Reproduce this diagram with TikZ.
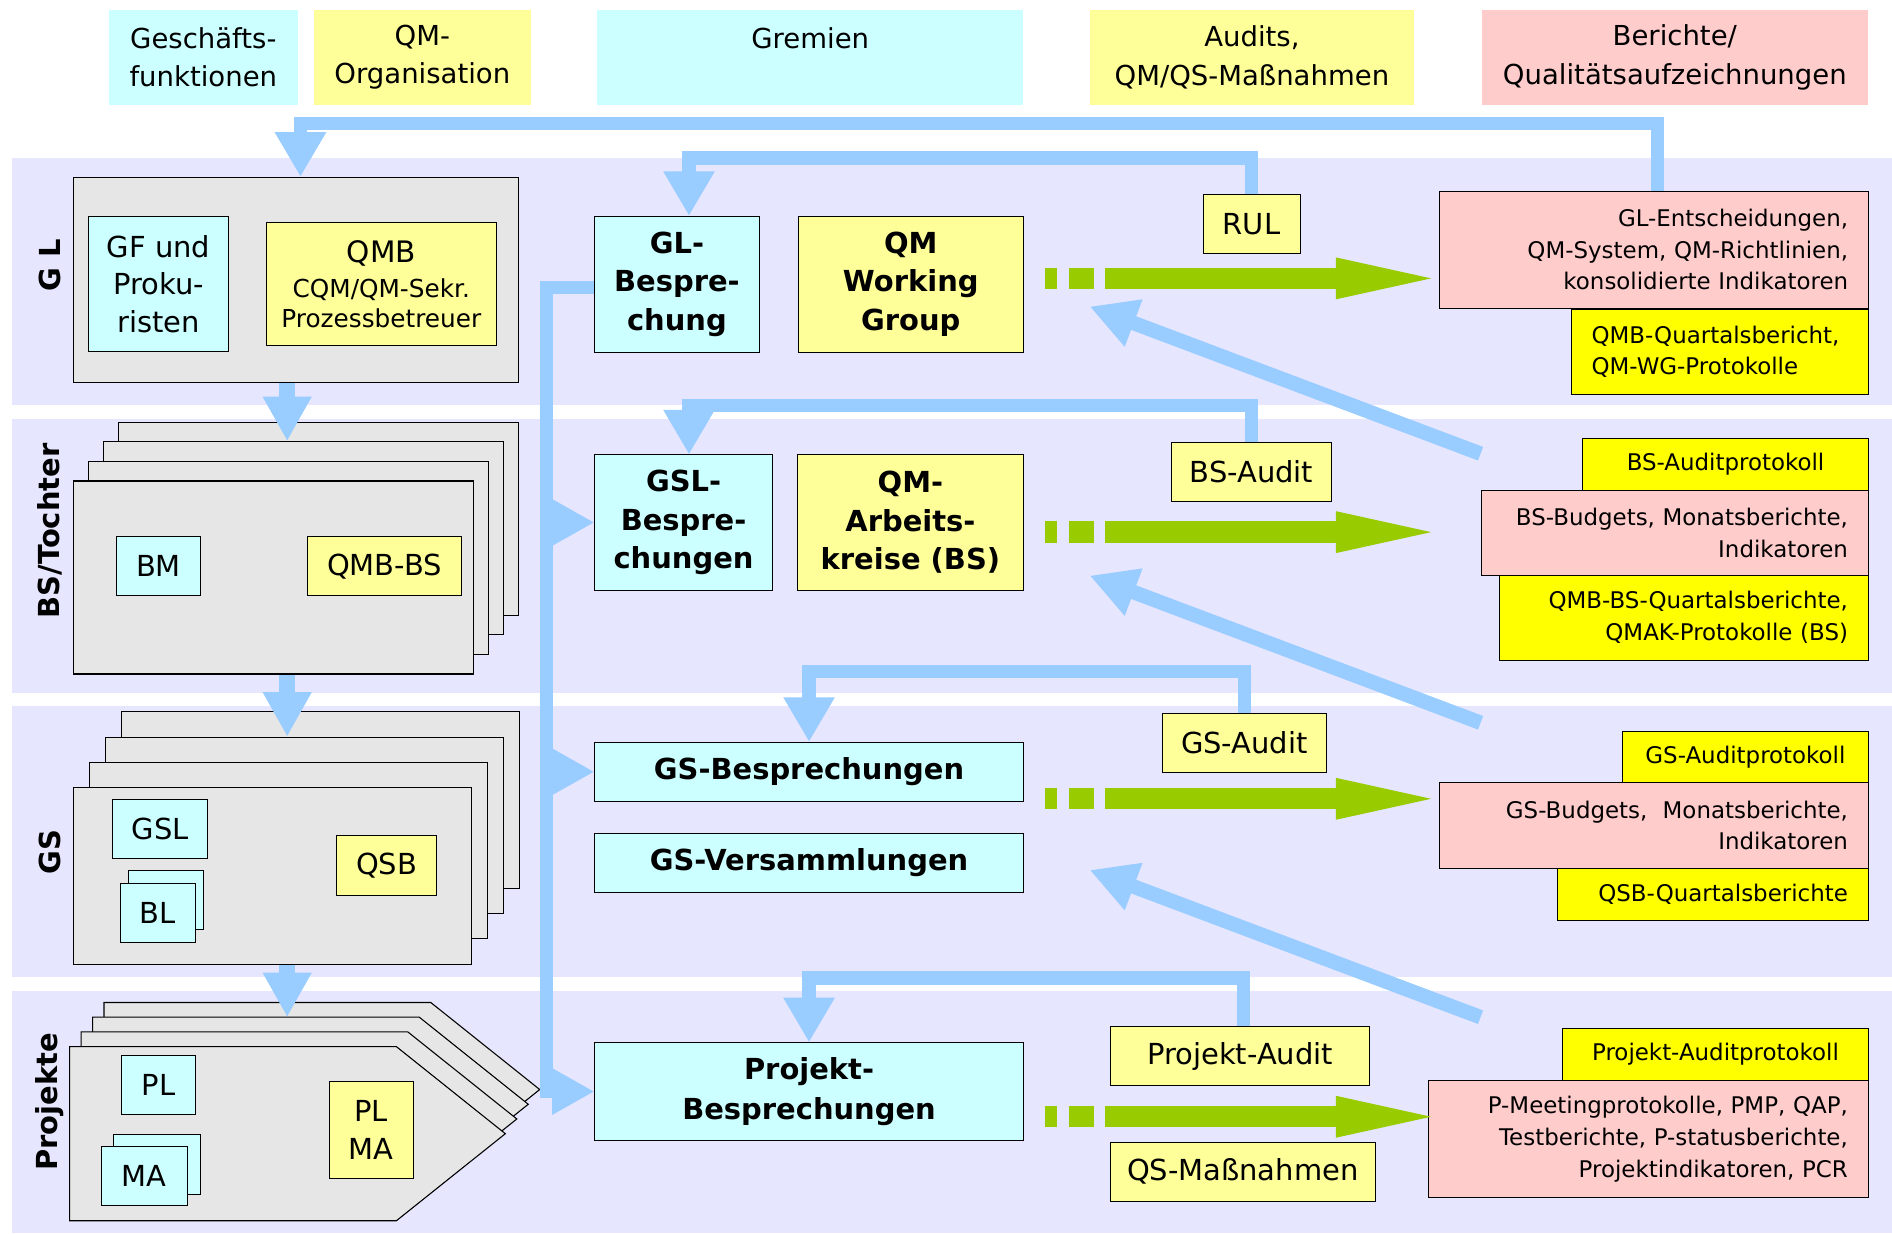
\documentclass[tikz,border=0pt]{standalone}
\usepackage{fontspec}
\setmainfont{DejaVu Sans}
\usetikzlibrary{arrows.meta,positioning,calc}

\definecolor{lane}{RGB}{230,230,255}
\definecolor{rolecyan}{RGB}{204,255,255}
\definecolor{qmyellow}{RGB}{255,255,153}
\definecolor{reportpink}{RGB}{255,204,204}
\definecolor{recordyellow}{RGB}{255,255,0}
\definecolor{stone}{RGB}{230,230,230}
\definecolor{flowblue}{RGB}{153,204,255}
\definecolor{flowgreen}{RGB}{153,204,0}

\newcommand{\fsz}[2]{\fontsize{#1}{#2}\selectfont}

\begin{document}
\begin{tikzpicture}[
    x=1pt,y=1pt,
    every node/.style={inner sep=0pt,align=center},
    colhead/.style={minimum height=79pt,font=\fsz{22.8}{31.8}},
    stack/.style={draw,fill=stone,line width=0.9pt},
    role/.style={draw,fill=rolecyan,line width=0.7pt,font=\fsz{24}{30.7}},
    qmrole/.style={role,fill=qmyellow},
    meet/.style={draw,fill=rolecyan,line width=0.7pt,font=\bfseries\fsz{24}{32}},
    audit/.style={draw,fill=qmyellow,line width=0.7pt,minimum height=49pt,font=\fsz{24}{28}},
    report/.style={draw,fill=reportpink,line width=0.7pt,inner xsep=17pt,align=right,font=\fsz{19}{26.2}},
    record/.style={report,fill=recordyellow},
    lanelabel/.style={rotate=90,font=\bfseries\fsz{24}{24}},
    feedback/.style={draw=flowblue,line width=11pt,-{Triangle[length=37pt,width=40pt]}},
    branch/.style={draw=flowblue,line width=11pt,-{Triangle[length=35pt,width=36pt]}},
    downflow/.style={draw=flowblue,line width=13pt,-{Triangle[length=37pt,width=38pt]}},
    shaft/.style={draw=flowgreen,line width=17.7pt,dash pattern=on 10pt off 10pt on 21pt off 9pt on 191pt},
    tiphead/.style={fill=flowgreen}
]
\useasboundingbox (0,0) rectangle (1568,-1022);

% lanes
\foreach \ya/\yb in {131/336,347/574,585/810,821/1022}
  \fill[lane] (10,-\ya) rectangle (1568,-\yb);

% column heads
\node[colhead,fill=rolecyan,minimum width=157pt] (hbiz) at (168.5,-47.5) {Geschäfts-\\funktionen};
\node[colhead,fill=qmyellow,minimum width=180pt] (hqm) at (350,-47.5) {QM-\\Organisation};
\node[colhead,fill=rolecyan,minimum width=353pt] (hgrem) at (671.5,-47.5) {Gremien\\~};
\node[colhead,fill=qmyellow,minimum width=269pt] (haud) at (1037.5,-47.5) {Audits,\\QM/QS-Maßnahmen};
\node[colhead,fill=reportpink,minimum width=320pt] (hrep) at (1388,-47.5) {Berichte/\\Qualitätsaufzeichnungen};

% lane labels
\node[lanelabel] (lgl) at (41.5,-220) {G L};
\node[lanelabel] (lbs) at (41.5,-440) {BS/Tochter};
\node[lanelabel] (lgs) at (41.5,-706) {GS};
\node[lanelabel] (lpr) at (41.5,-913) {Projekte};

% GL
\node[stack,minimum width=369pt,minimum height=170pt] (gl) at (245.5,-232) {};
\node[role,minimum width=116pt,minimum height=111.5pt] (gf) at (131.5,-235.5) {GF und\\Proku-\\risten};
\node[qmrole,minimum width=190pt,minimum height=102pt,font=\fsz{20.5}{25.5}] (qmb) at (316,-235.5)
  {{\fsz{24.5}{25.5}QMB}\\[3.5pt]CQM/QM-Sekr.\\Prozessbetreuer};

% BS/Tochter
\foreach \k in {3,2,1}
  \node[stack,minimum width=332pt,minimum height=160pt] (bs\k) at ({226.75+12.37*\k},{-478.6+16.25*\k}) {};
\node[stack,minimum width=332pt,minimum height=160pt] (bs) at (226.75,-478.6) {};
\node[role,minimum width=69.5pt,minimum height=49pt] (bm) at (131.3,-469.3) {BM};
\node[qmrole,minimum width=128pt,minimum height=49pt] (qmbbs) at (318.6,-469.3) {QMB-BS};

% GS
\foreach \k in {3,2,1}
  \node[stack,minimum width=330pt,minimum height=146pt] (gs\k) at ({226+13.2*\k},{-726+21*\k}) {};
\node[stack,minimum width=330pt,minimum height=146pt] (gs) at (226,-726) {};
\node[role,minimum width=79pt,minimum height=49pt] (gsl) at (132.8,-687) {GSL};
\node[role,minimum width=62pt,minimum height=48.6pt] (bl2) at (137.6,-745.9) {};
\node[role,minimum width=62.5pt,minimum height=49pt] (bl) at (130.8,-756.9) {BL};
\node[qmrole,minimum width=82.7pt,minimum height=49pt] (qsb) at (320.4,-717.2) {QSB};

% Projekte
\foreach \k in {3,2,1,0}{
  \coordinate (pr\k) at ({57.7+9.5*\k},{-867.4+12.2*\k});
  \draw[stack] (pr\k) -- ++(270.8,0) -- ++(90.3,-72.15) -- ++(-90.3,-72.15) -- ++(-270.8,0) -- cycle;
}
\node[role,minimum width=61.4pt,minimum height=48.5pt] (pl) at (131.3,-899.3) {PL};
\node[role,minimum width=72pt,minimum height=49.5pt] (ma2) at (129.8,-964.8) {};
\node[role,minimum width=71.6pt,minimum height=49.4pt] (ma) at (119.6,-974.5) {MA};
\node[qmrole,minimum width=70pt,minimum height=80.6pt,font=\fsz{24}{31.8}] (plma) at (307.6,-936.3) {PL\\MA};

% Gremien
\node[meet,minimum width=136pt,minimum height=112.4pt] (glmeet) at (561,-235.5) {GL-\\Bespre-\\chung};
\node[meet,fill=qmyellow,minimum width=186.4pt,minimum height=112.4pt] (qmwg) at (754.8,-235.5) {QM\\Working\\Group};
\node[meet,minimum width=147pt,minimum height=112pt] (gslmeet) at (566.5,-433) {GSL-\\Bespre-\\chungen};
\node[meet,fill=qmyellow,minimum width=187pt,minimum height=112pt] (qmak) at (754.5,-433) {QM-\\Arbeits-\\kreise (BS)};
\node[meet,minimum width=355pt,minimum height=48.8pt] (gsmeet) at (670.5,-639.6) {GS-Besprechungen};
\node[meet,minimum width=355pt,minimum height=48.5pt] (gsvers) at (670.5,-715.3) {GS-Versammlungen};
\node[meet,minimum width=355pt,minimum height=80.8pt,font=\bfseries\fsz{24}{33}] (prmeet) at (670.5,-904.6) {Projekt-\\Besprechungen};

% audits
\node[audit,minimum width=80.3pt] (rul) at (1037.2,-185.8) {RUL};
\node[audit,minimum width=133.4pt] (bsaudit) at (1037.1,-391) {BS-Audit};
\node[audit,minimum width=135.5pt] (gsaudit) at (1031.2,-615.8) {GS-Audit};
\node[audit,minimum width=215pt] (praudit) at (1027.8,-875.2) {Projekt-Audit};
\node[audit,minimum width=220pt] (qsmass) at (1029.9,-971) {QS-Maßnahmen};

% reports
\node[record,align=left,text width=212.6pt,minimum height=70.1pt] (glqmb) at (1425.3,-291.5) {QMB-Quartalsbericht,\\QM-WG-Protokolle};
\node[report,text width=321.6pt,minimum height=97.2pt] (glrep) at (1370.8,-206.9) {GL-Entscheidungen,\\QM-System, QM-Richtlinien,\\konsolidierte Indikatoren};
\node[record,align=center,text width=203pt,minimum height=43.3pt] (bsprot) at (1430,-385) {BS-Auditprotokoll};
\node[record,text width=272pt,minimum height=70.5pt] (bsqmb) at (1395.5,-511.8) {QMB-BS-Quartalsberichte,\\QMAK-Protokolle (BS)};
\node[report,text width=286.5pt,minimum height=69.9pt] (bsrep) at (1388.2,-441.6) {BS-Budgets, Monatsberichte,\\Indikatoren};
\node[record,align=center,text width=170pt,minimum height=43pt] (gsprot) at (1446.5,-627.3) {GS-Auditprotokoll};
\node[record,text width=223.7pt,minimum height=43pt] (gsqsb) at (1419.6,-741) {QSB-Quartalsberichte};
\node[report,text width=322pt,minimum height=71pt] (gsrep) at (1370.5,-684.2) {GS-Budgets,\ \ Monatsberichte,\\Indikatoren};
\node[record,align=center,text width=219.4pt,minimum height=43.3pt] (prprot) at (1421.7,-873.7) {Projekt-Auditprotokoll};
\node[report,text width=331pt,minimum height=97.3pt] (prrep) at (1365.9,-944) {P-Meetingprotokolle, PMP, QAP,\\Testberichte, P-statusberichte,\\Projektindikatoren, PCR};

% down the hierarchy
\coordinate (axis) at (238,0);
\draw[downflow] (gl.south -| axis) -- (bs2.north -| axis);
\draw[downflow] (bs.south -| axis) -- (gs2.north -| axis);
\draw[downflow] (gs.south -| axis) -- (pr2 -| axis);

% audits back to the meetings
\draw[feedback] (rul.north) -- ++(0,30) -| ([xshift=10pt]glmeet.north);
\draw[feedback] (bsaudit.north) -- ++(0,29.8) -| ([xshift=4.5pt]gslmeet.north);
\draw[feedback] (gsaudit.north) -- ++(0,34.5) -| (gsmeet.north);
\draw[feedback] ([xshift=3pt]praudit.north) -- ++(0,39.8) -| (prmeet.north);
\draw[feedback] ([xshift=3pt]glrep.north) -- ++(0,55.8) -| ([xshift=3.5pt]gl.north);

% GL-Besprechung down to the other meetings
\coordinate (spine) at (453,0);
\draw[branch] ([yshift=-2.5pt]glmeet.west) -| (spine |- prmeet.west) -- (prmeet.west);
\draw[branch] (gslmeet.west -| spine) -- (gslmeet.west);
\draw[branch] (gsmeet.west -| spine) -- (gsmeet.west);

% results into the reports
\foreach \lane/\y in {gl/-230.7,bs/-441,gs/-662,pr/-925.5}{
  \coordinate (\lane dash) at (866,\y);
  \coordinate (\lane base) at (1107,\y);
  \coordinate (\lane in) at (1186,\y);
  \draw[shaft] (\lane dash) -- (\lane base);
  \fill[tiphead] (\lane in) -- ([yshift=17.4pt]\lane base) -- ([yshift=-17.4pt]\lane base) -- cycle;
}

% reports back
\foreach \lane/\y in {gl/-376,bs/-599,gs/-843}{
  \coordinate (\lane back) at (1227,\y);
  \coordinate (\lane tip) at (903,{\y+122});
  \draw[feedback,line width=12pt,-{Triangle[length=39pt,width=39pt]}] (\lane back) -- (\lane tip);
}

\end{tikzpicture}
\end{document}
